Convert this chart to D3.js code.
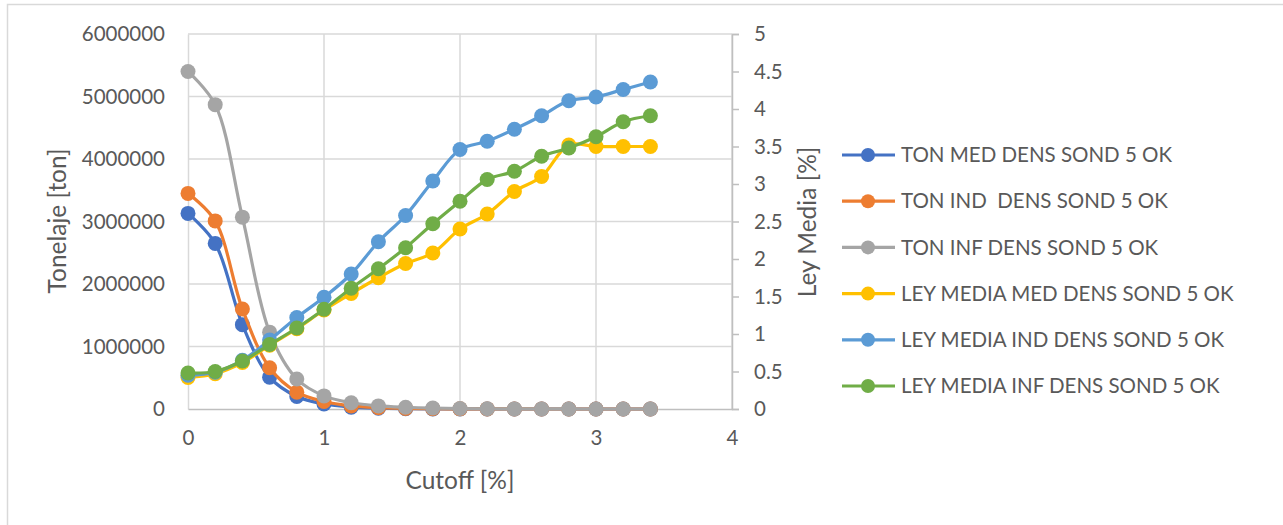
<!DOCTYPE html>
<html><head><meta charset="utf-8">
<script src="https://cdn.jsdelivr.net/npm/d3@7"></script>
<style>
html,body{margin:0;padding:0;background:#fff;}
svg{display:block;font-family:Lato,"Open Sans",sans-serif;}
</style></head><body>
<svg id="chart" width="1283" height="525"></svg>
<script>
const cutoff = [0, 0.2, 0.4, 0.6, 0.8, 1.0, 1.2, 1.4, 1.6, 1.8, 2.0, 2.2, 2.4, 2.6, 2.8, 3.0, 3.2, 3.4];
const tonMed = [3130000, 2650000, 1350000, 510000, 200000, 80000, 30000, 12000, 5000, 2000, 1000, 500, 200, 100, 50, 20, 10, 5];
const tonInd = [3450000, 3010000, 1600000, 660000, 270000, 120000, 50000, 22000, 10000, 5000, 2500, 1200, 600, 300, 150, 80, 40, 20];
const tonInf = [5400000, 4870000, 3070000, 1230000, 480000, 210000, 100000, 50000, 28000, 15000, 8000, 4000, 2000, 1000, 500, 300, 150, 80];
const leyMed = [0.42, 0.47, 0.62, 0.85, 1.07, 1.32, 1.54, 1.75, 1.94, 2.08, 2.40, 2.60, 2.90, 3.10, 3.52, 3.50, 3.50, 3.50];
const leyInd = [0.45, 0.49, 0.65, 0.92, 1.22, 1.49, 1.80, 2.23, 2.58, 3.04, 3.46, 3.57, 3.73, 3.91, 4.11, 4.16, 4.26, 4.36];
const leyInf = [0.48, 0.50, 0.64, 0.86, 1.08, 1.33, 1.61, 1.87, 2.15, 2.47, 2.77, 3.06, 3.17, 3.37, 3.48, 3.63, 3.83, 3.91];
const seriesNames = ["TON MED DENS SOND 5 OK", "TON IND  DENS SOND 5 OK", "TON INF DENS SOND 5 OK",
  "LEY MEDIA MED DENS SOND 5 OK", "LEY MEDIA IND DENS SOND 5 OK", "LEY MEDIA INF DENS SOND 5 OK"];
const seriesColors = ["#4472C4", "#ED7D31", "#A5A5A5", "#FFC000", "#5B9BD5", "#70AD47"];
const leftTicks = [0, 1000000, 2000000, 3000000, 4000000, 5000000, 6000000];
const rightTicks = [0, 0.5, 1, 1.5, 2, 2.5, 3, 3.5, 4, 4.5, 5];
const xTicks = [0, 1, 2, 3, 4];

const svg = d3.select("#chart");
const m = {left: 188, right: 732, top: 34, bottom: 409};
const textColor = "#595959";
const fs = 20.5;
const fsTitle = 24.5;

svg.append("rect").attr("x", 7.5).attr("y", 4.5).attr("width", 1290).attr("height", 540)
  .attr("fill", "#fff").attr("stroke", "#D9D9D9").attr("stroke-width", 1.5);

const x = d3.scaleLinear().domain([0, 4]).range([m.left, m.right]);
const yL = d3.scaleLinear().domain([0, 6000000]).range([m.bottom, m.top]);
const yR = d3.scaleLinear().domain([0, 5]).range([m.bottom, m.top]);

// gridlines
const grid = svg.append("g");
grid.selectAll("line.h").data(leftTicks.slice(1)).join("line")
  .attr("x1", m.left).attr("x2", m.right).attr("y1", d => yL(d)).attr("y2", d => yL(d))
  .attr("stroke", "#D9D9D9").attr("stroke-width", 1.5);
grid.selectAll("line.v").data(xTicks.slice(1)).join("line")
  .attr("x1", d => x(d)).attr("x2", d => x(d)).attr("y1", m.top).attr("y2", m.bottom)
  .attr("stroke", "#D9D9D9").attr("stroke-width", 1.5);

// axes
const axL = svg.append("g").attr("transform", `translate(${m.left},0)`)
  .call(d3.axisLeft(yL).tickValues(leftTicks).tickFormat(d3.format("d")).tickSize(0).tickPadding(23));
const axR = svg.append("g").attr("transform", `translate(${m.right},0)`)
  .call(d3.axisRight(yR).tickValues(rightTicks).tickFormat(d => String(d)).tickSize(7).tickPadding(15));
const axB = svg.append("g").attr("transform", `translate(0,${m.bottom})`)
  .call(d3.axisBottom(x).tickValues(xTicks).tickFormat(d3.format("d")).tickSize(0).tickPadding(21));
[axL, axR, axB].forEach(a => {
  a.select(".domain").attr("stroke", "#BFBFBF").attr("stroke-width", 1.5);
  a.selectAll(".tick line").attr("stroke", "#BFBFBF").attr("stroke-width", 1.5);
  a.selectAll("text").attr("fill", textColor).style("font-size", fs + "px").style("font-family", "Lato");
});
axL.select(".domain").attr("stroke", "#D9D9D9");

// titles
svg.append("text").attr("transform", "translate(66,221) rotate(-90)").attr("text-anchor", "middle")
  .attr("fill", textColor).style("font-size", fsTitle + "px").text("Tonelaje [ton]");
svg.append("text").attr("transform", "translate(816,222) rotate(-90)").attr("text-anchor", "middle")
  .attr("fill", textColor).style("font-size", fsTitle + "px").text("Ley Media [%]");
svg.append("text").attr("x", 460).attr("y", 489).attr("text-anchor", "middle")
  .attr("fill", textColor).style("font-size", fsTitle + "px").text("Cutoff [%]");

// series
const seriesData = [
  {vals: tonMed, y: yL}, {vals: tonInd, y: yL}, {vals: tonInf, y: yL},
  {vals: leyMed, y: yR}, {vals: leyInd, y: yR}, {vals: leyInf, y: yR}
];
const plot = svg.append("g");
seriesData.forEach((s, i) => {
  const pts = cutoff.map((c, j) => [c, s.vals[j]]);
  const line = d3.line().x(d => x(d[0])).y(d => s.y(d[1])).curve(d3.curveCatmullRom.alpha(0.5));
  const g = plot.append("g");
  g.append("path").datum(pts).attr("d", line).attr("fill", "none")
    .attr("stroke", seriesColors[i]).attr("stroke-width", 3.2).attr("stroke-linejoin", "round");
  g.selectAll("circle").data(pts).join("circle")
    .attr("cx", d => x(d[0])).attr("cy", d => s.y(d[1])).attr("r", 7.5).attr("fill", seriesColors[i]);
});

// legend
const lg = svg.append("g");
seriesNames.forEach((name, i) => {
  const yy = 155 + i * 46.2;
  lg.append("line").attr("x1", 842).attr("x2", 895).attr("y1", yy).attr("y2", yy)
    .attr("stroke", seriesColors[i]).attr("stroke-width", 3.2);
  lg.append("circle").attr("cx", 868).attr("cy", yy).attr("r", 7).attr("fill", seriesColors[i]);
  lg.append("text").attr("x", 901).attr("y", yy).attr("dy", "0.35em")
    .attr("fill", textColor).style("font-size", fs + "px").style("white-space", "pre").text(name);
});
</script>
</body></html>
